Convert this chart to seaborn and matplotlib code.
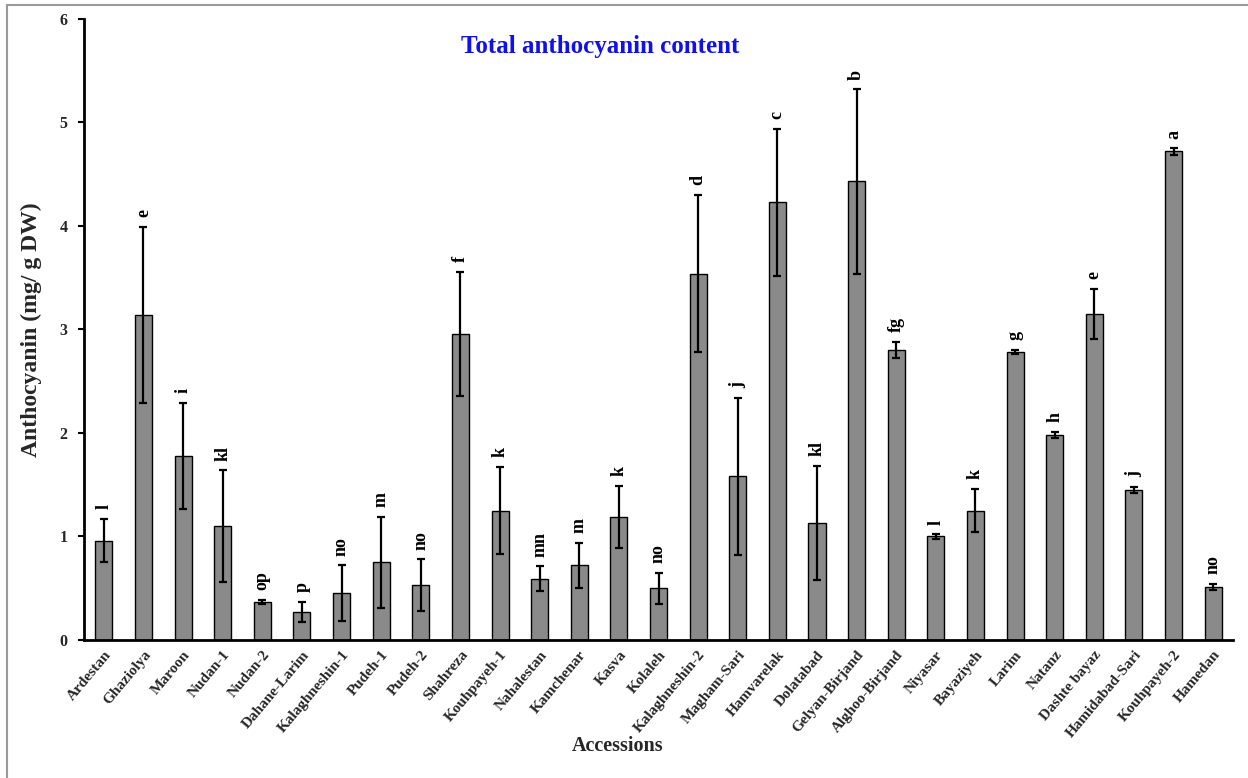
import matplotlib
matplotlib.use("Agg")
import matplotlib.pyplot as plt
import seaborn as sns
import pandas as pd
import numpy as np
from matplotlib.lines import Line2D

# Accessions and their mean total anthocyanin (mg/g DW), standard errors and Duncan letters
accessions = [
    "Ardestan", "Ghaziolya", "Maroon", "Nudan-1", "Nudan-2", "Dahane-Larim",
    "Kalaghneshin-1", "Pudeh-1", "Pudeh-2", "Shahreza", "Kouhpayeh-1",
    "Nahalestan", "Kamchenar", "Kasva", "Kolaleh", "Kalaghneshin-2",
    "Magham-Sari", "Hamvarelak", "Dolatabad", "Gelyan-Birjand",
    "Alghoo-Birjand", "Niyasar", "Bayaziyeh", "Larim", "Natanz",
    "Dashte bayaz", "Hamidabad-Sari", "Kouhpayeh-2", "Hamedan",
]
anthocyanin = [
    0.96, 3.14, 1.78, 1.10, 0.37, 0.27, 0.45, 0.75, 0.53, 2.96, 1.25,
    0.59, 0.72, 1.19, 0.50, 3.54, 1.58, 4.23, 1.13, 4.43,
    2.80, 1.00, 1.25, 2.78, 1.98, 3.15, 1.45, 4.72, 0.51,
]
std_err = [
    0.21, 0.85, 0.51, 0.54, 0.02, 0.10, 0.27, 0.44, 0.25, 0.60, 0.42,
    0.12, 0.22, 0.30, 0.15, 0.76, 0.76, 0.71, 0.55, 0.89,
    0.08, 0.02, 0.21, 0.02, 0.03, 0.24, 0.03, 0.03, 0.03,
]
letters = [
    "l", "e", "i", "kl", "op", "p", "no", "m", "no", "f", "k",
    "mn", "m", "k", "no", "d", "j", "c", "kl", "b",
    "fg", "l", "k", "g", "h", "e", "j", "a", "no",
]

df = pd.DataFrame({"Accession": accessions, "Anthocyanin": anthocyanin})

sns.set_theme(style="white")
plt.rcParams["font.family"] = ["Liberation Serif", "DejaVu Serif"]
plt.rcParams["font.weight"] = "bold"

fig = plt.figure(figsize=(12.48, 7.78), dpi=100)
ax = fig.add_axes([0.0673, 0.1774, 0.9207, 0.7982])

sns.barplot(data=df, x="Accession", y="Anthocyanin", ax=ax,
            color="#8a8a8a", saturation=1, width=0.43,
            edgecolor="black", linewidth=1.0, errorbar=None)

xpos = np.arange(len(accessions))
ax.errorbar(xpos, anthocyanin, yerr=std_err, fmt="none",
            ecolor="black", elinewidth=1.6, capsize=3.2, capthick=1.6)

# significance letters above each error bar
for x, m, e, lab in zip(xpos, anthocyanin, std_err, letters):
    ax.annotate(lab, xy=(x, m + e), xytext=(0, 7), textcoords="offset points",
                rotation=90, ha="center", va="bottom",
                fontsize=13, fontweight="bold", color="black")

ax.set_xlim(-0.5, len(accessions) - 0.5)
ax.set_ylim(0, 6)
ax.set_yticks(range(0, 7))
ax.set_yticklabels([str(v) for v in range(0, 7)], fontsize=11.5, fontweight="bold")
ax.set_xticks(xpos)
ax.set_xticklabels(accessions, rotation=50, ha="right", rotation_mode="anchor",
                   fontsize=11, fontweight="bold")
ax.tick_params(axis="y", direction="out", length=4, width=1.5, color="black", pad=8, left=True)
ax.tick_params(axis="x", length=0, pad=6)

for side in ("top", "right"):
    ax.spines[side].set_visible(False)
for side in ("left", "bottom"):
    ax.spines[side].set_color("black")
    ax.spines[side].set_linewidth(2)

ax.set_xlabel("Accessions", fontsize=14.5, fontweight="bold")
ax.xaxis.set_label_coords(0.464, -0.155)
ax.set_ylabel("Anthocyanin (mg/ g DW)", fontsize=17, fontweight="bold")
ax.yaxis.set_label_coords(-0.0366, 0.5)

fig.text(0.481, 0.94, "Total anthocyanin content", color="#1010ee",
         fontsize=18, fontweight="bold", ha="center", va="center")

# thin grey frame around the chart area
fig.add_artist(Line2D([0.0056, 1.0], [0.9936, 0.9936], transform=fig.transFigure,
                      color="#9a9a9a", linewidth=1.5))
fig.add_artist(Line2D([0.0056, 0.0056], [0.0, 0.9936], transform=fig.transFigure,
                      color="#9a9a9a", linewidth=1.5))

fig.savefig("out.png", dpi=100, facecolor="white")
